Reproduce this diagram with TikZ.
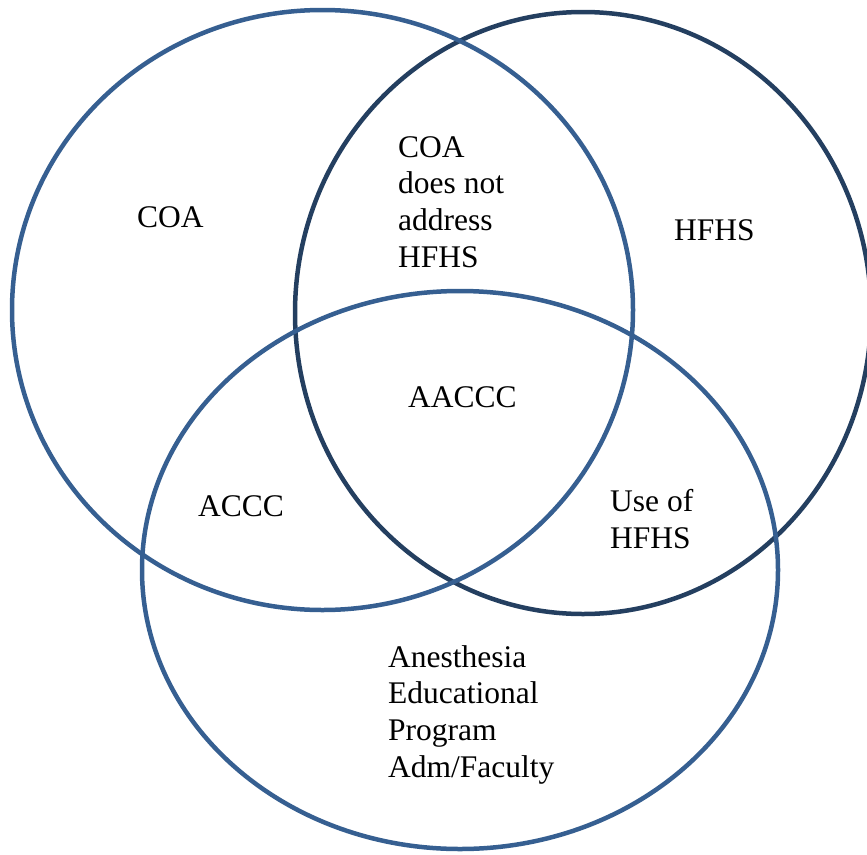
\documentclass[tikz,border=0pt]{standalone}
\usepackage{fontspec}
\setmainfont{Liberation Serif}
\newfontfamily\labelserif{Liberation Serif}
\definecolor{ringblue}{HTML}{365F91}
\definecolor{ringdark}{HTML}{243F60}
\begin{document}
\begin{tikzpicture}[x=1pt,y=-1pt,
  ring/.style={line width=4.5pt},
  lbl/.style={anchor=north west,inner sep=0pt,align=left,font=\labelserif\fontsize{31.5}{36.8}\selectfont}]
\useasboundingbox (0,0) rectangle (867,854);
\coordinate (c1) at (322.5,310);
\coordinate (c2) at (583,313);
\coordinate (c3) at (460,570);
\draw[ring,ringdark] (c2) ellipse [x radius=288, y radius=301];
\draw[ring,ringblue] (c1) ellipse [x radius=310.5, y radius=300];
\draw[ring,ringblue] (c3) ellipse [x radius=318, y radius=279];
\node[lbl] (coa) at (137,206) {COA};
\node[lbl] (coanot) at (398,136) {COA\\does not\\address\\HFHS};
\node[lbl] (hfhs) at (674,219) {HFHS};
\node[lbl] (aaccc) at (408,386) {AACCC};
\node[lbl] (accc) at (198,495) {ACCC};
\node[lbl] (use) at (610,489) {Use of\\HFHS};
\node[lbl] (anes) at (388,645) {Anesthesia\\Educational\\Program\\Adm/Faculty};
\end{tikzpicture}
\end{document}
